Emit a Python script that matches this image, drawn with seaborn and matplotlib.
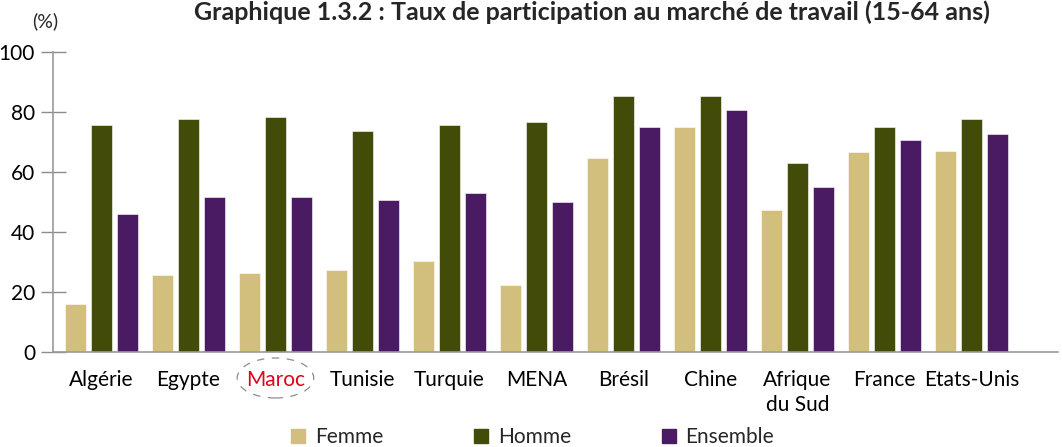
import matplotlib
matplotlib.use("Agg")
import matplotlib.pyplot as plt
from matplotlib import font_manager
from matplotlib.patches import Ellipse
from matplotlib.lines import Line2D
from matplotlib.transforms import blended_transform_factory
import pandas as pd
import seaborn as sns

# Labour force participation rate (15-64), in %
pays = ["Algérie", "Egypte", "Maroc", "Tunisie", "Turquie", "MENA",
        "Brésil", "Chine", "Afrique\ndu Sud", "France", "Etats-Unis"]
femme = [16.0, 25.7, 26.2, 27.3, 30.2, 22.2, 64.7, 74.9, 47.3, 66.5, 67.0]
homme = [75.5, 77.7, 78.2, 73.8, 75.5, 76.6, 85.2, 85.2, 63.1, 74.9, 77.7]
ensemble = [46.0, 51.7, 51.7, 50.7, 52.8, 50.0, 74.9, 80.6, 55.1, 70.5, 72.7]
series = ["Femme", "Homme", "Ensemble"]
yticks = [0, 20, 40, 60, 80, 100]

colors = {"Femme": "#D3BF7D", "Homme": "#434B09", "Ensemble": "#4A1A62"}

df = pd.DataFrame({"Pays": pays, "Femme": femme, "Homme": homme,
                   "Ensemble": ensemble})
long = df.melt(id_vars="Pays", value_vars=series,
               var_name="Série", value_name="Taux")

sns.set_theme(style="white")
available = {f.name for f in font_manager.fontManager.ttflist}
family = next((f for f in ["Liberation Sans Narrow", "Lato", "Open Sans",
                           "DejaVu Sans"] if f in available), "DejaVu Sans")
plt.rcParams["font.family"] = [family, "DejaVu Sans"]

fig = plt.figure(figsize=(10.62, 4.47), dpi=100)
ax = fig.add_axes([0.050, 0.2132, 0.946, 0.6705])

sns.barplot(data=long, x="Pays", y="Taux", hue="Série", hue_order=series,
            palette=colors, order=pays, width=0.885, gap=0.18,
            edgecolor="white", linewidth=0.4, saturation=1,
            legend=False, ax=ax)

ax.set_ylim(0, 100)
ax.set_xlim(-0.555, 10.99)
ax.set_yticks(yticks)
ax.set_yticklabels([str(v) for v in yticks], fontsize=15, color="black")
ax.tick_params(axis="y", direction="inout", length=18, width=1,
               color="#8c8c8c", pad=4, left=True)
ax.tick_params(axis="x", length=0, pad=13, labelsize=15)
ax.set_xlabel("")
ax.set_ylabel("")
for side in ["top", "right"]:
    ax.spines[side].set_visible(False)
for side in ["left", "bottom"]:
    ax.spines[side].set_color("#9a9a9a")
    ax.spines[side].set_linewidth(1.2)

for lab in ax.get_xticklabels():
    lab.set_color("black")
    lab.set_linespacing(1.3)
    if lab.get_text() == "Maroc":
        lab.set_color("#E2001A")

# Dashed ellipse highlighting Morocco
trans = blended_transform_factory(ax.transData, fig.transFigure)
ell = Ellipse((pays.index("Maroc"), 1 - 378 / 447), width=0.88,
              height=40 / 447, transform=trans, fill=False,
              edgecolor="#8c8c8c", linestyle=(0, (6, 6)), linewidth=0.9,
              clip_on=False)
fig.add_artist(ell)

fig.text(0.557, 0.999, "Graphique 1.3.2 : Taux de participation au marché "
         "de travail (15-64 ans)", ha="center", va="top",
         fontsize=18, fontweight="bold")
fig.text(0.043, 0.952, "(%)", ha="center", va="center", fontsize=14)

handles = [Line2D([0], [0], marker="s", linestyle="", markersize=10,
                  markerfacecolor=colors[s], markeredgecolor=colors[s])
           for s in series]
fig.legend(handles, series, loc="center", bbox_to_anchor=(0.500, 0.022),
           ncol=3, frameon=False, fontsize=15, columnspacing=4.2,
           handletextpad=0.3, handlelength=1.0, borderaxespad=0)

fig.savefig("out.png", dpi=100)
